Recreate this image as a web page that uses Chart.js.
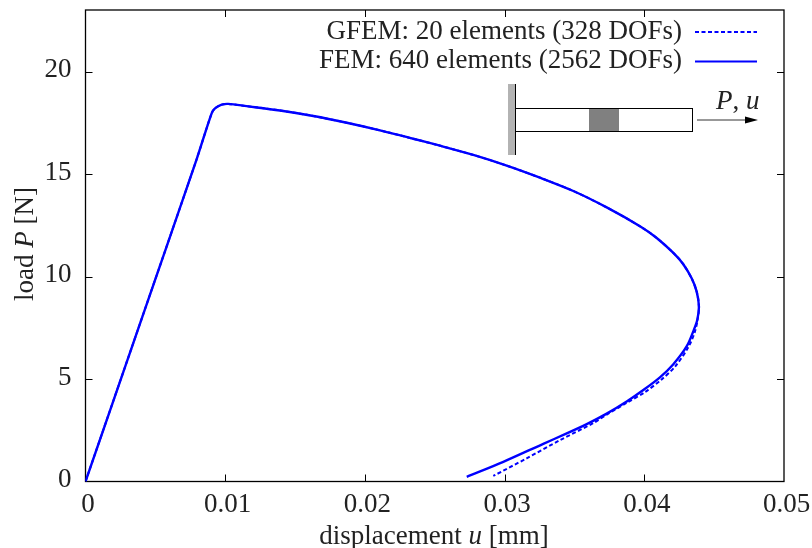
<!DOCTYPE html>
<html>
<head>
<meta charset="utf-8">
<style>
  html, body { margin: 0; padding: 0; background: #fff; }
  #wrap { position: relative; width: 812px; height: 548px; }
</style>
<script src="https://cdn.jsdelivr.net/npm/chart.js@4/dist/chart.umd.min.js"></script>
</head>
<body>
<div id="wrap"><canvas id="myChart" width="812" height="548"></canvas></div>
<script>
const xTicks = [0, 0.01, 0.02, 0.03, 0.04, 0.05];
const yTicks = [0, 5, 10, 15, 20];
const xTickLabels = ['0', '0.01', '0.02', '0.03', '0.04', '0.05'];

const femU = [0, 0.004, 0.00796, 0.00903, 0.00927, 0.00975, 0.01022, 0.01154, 0.01392, 0.01631, 0.0187, 0.02108, 0.02346, 0.02538, 0.02776, 0.03015, 0.03253, 0.03492, 0.03731, 0.03969, 0.04089, 0.04208, 0.04279, 0.04339, 0.04375, 0.04391, 0.04379, 0.04356, 0.04304, 0.04208, 0.04112, 0.03993, 0.03874, 0.03731, 0.03588, 0.03433, 0.03277, 0.02991, 0.02729];
const femP = [0, 7.9, 15.73, 17.96, 18.2, 18.38, 18.42, 18.31, 18.1, 17.83, 17.5, 17.13, 16.72, 16.38, 15.93, 15.41, 14.82, 14.17, 13.37, 12.45, 11.88, 11.15, 10.6, 9.91, 9.26, 8.53, 7.88, 7.42, 6.6, 5.72, 5.08, 4.46, 3.9, 3.31, 2.8, 2.31, 1.84, 0.96, 0.23];
const gfemU = [0, 0.004, 0.00796, 0.00903, 0.00927, 0.00975, 0.01022, 0.01154, 0.01392, 0.01631, 0.0187, 0.02108, 0.02346, 0.02538, 0.02776, 0.03015, 0.03253, 0.03492, 0.03731, 0.03969, 0.04089, 0.04208, 0.04279, 0.04339, 0.04375, 0.04391, 0.04381, 0.04362, 0.04315, 0.04222, 0.04124, 0.04005, 0.03874, 0.03731, 0.03635, 0.03397, 0.03158, 0.02919];
const gfemP = [0, 7.9, 15.73, 17.96, 18.2, 18.38, 18.42, 18.31, 18.1, 17.83, 17.5, 17.13, 16.72, 16.38, 15.93, 15.41, 14.82, 14.17, 13.37, 12.45, 11.88, 11.15, 10.6, 9.91, 9.26, 8.53, 7.88, 7.3, 6.55, 5.62, 4.98, 4.36, 3.84, 3.26, 2.85, 2.02, 1.13, 0.27];

const serif = '"Liberation Serif", "Times New Roman", serif';
const fontSize = 27;
const toPoints = (us, ps) => us.map((u, i) => ({ x: u, y: ps[i] }));

// draws mixed roman/italic runs one after the other
function drawRuns(c, runs, x, y, centered) {
    let start = x;
    if (centered) {
        let tw = 0;
        runs.forEach(r => { c.font = r[1] + fontSize + 'px ' + serif; tw += c.measureText(r[0]).width; });
        start = x - tw / 2;
    }
    runs.forEach(r => {
        c.font = r[1] + fontSize + 'px ' + serif;
        c.fillText(r[0], start, y);
        start += c.measureText(r[0]).width;
    });
}

const frame = {
    id: 'frame',
    beforeDatasetsDraw(chart) {
        const { left, top, width, height } = chart.chartArea;
        chart.ctx.save();
        chart.ctx.strokeStyle = '#000';
        chart.ctx.lineWidth = 1.3;
        chart.ctx.strokeRect(left, top, width, height);
        chart.ctx.restore();
    }
};

// inward ticks, legend, axis titles and the little bar sketch
const decorations = {
    id: 'decorations',
    afterDatasetsDraw(chart) {
        const c = chart.ctx;
        const { left, right, top, bottom } = chart.chartArea;
        const sx = chart.scales.x, sy = chart.scales.y;
        c.save();
        c.strokeStyle = '#000';
        c.lineWidth = 1;
        c.beginPath();
        xTicks.slice(1, -1).forEach(v => {
            const px = Math.round(sx.getPixelForValue(v)) + 0.5;
            c.moveTo(px, bottom); c.lineTo(px, bottom - 7);
            c.moveTo(px, top); c.lineTo(px, top + 7);
        });
        yTicks.slice(1).forEach(v => {
            const py = Math.round(sy.getPixelForValue(v)) + 0.5;
            c.moveTo(left, py); c.lineTo(left + 7, py);
            c.moveTo(right, py); c.lineTo(right - 7, py);
        });
        c.stroke();

        // legend
        c.font = fontSize + 'px ' + serif;
        c.fillStyle = '#222';
        c.textAlign = 'right';
        c.textBaseline = 'alphabetic';
        chart.data.datasets.forEach((ds, i) => {
            const y = 32 + i * 29.5;
            c.fillText(ds.label, 682, y + 6.5);
            c.strokeStyle = ds.borderColor;
            c.lineWidth = 2;
            c.setLineDash(ds.borderDash || []);
            c.beginPath(); c.moveTo(695, y); c.lineTo(757, y); c.stroke();
        });
        c.setLineDash([]);

        // sketch of the bar
        c.fillStyle = '#b3b3b3';
        c.fillRect(508, 84, 8, 71);
        c.fillStyle = '#808080';
        c.fillRect(589, 108, 30, 23);
        c.strokeStyle = '#000';
        c.lineWidth = 1;
        c.strokeRect(515.5, 108.5, 177, 23);
        c.beginPath(); c.moveTo(515.5, 84); c.lineTo(515.5, 155); c.stroke();
        c.strokeStyle = '#333';
        c.beginPath(); c.moveTo(697, 120); c.lineTo(748, 120); c.stroke();
        c.fillStyle = '#000';
        c.beginPath(); c.moveTo(758, 120); c.lineTo(745, 116.5); c.lineTo(745, 123.5); c.closePath(); c.fill();

        c.fillStyle = '#222';
        c.textAlign = 'left';
        drawRuns(c, [['P', 'italic '], [', ', ''], ['u', 'italic ']], 716, 108.5, false);

        // axis titles with the italic symbol
        drawRuns(c, [['displacement ', ''], ['u', 'italic '], [' [mm]', '']], 434, 544, true);
        c.translate(33, 244);
        c.rotate(-Math.PI / 2);
        drawRuns(c, [['load ', ''], ['P', 'italic '], [' [N]', '']], 0, 0, true);
        c.restore();
    }
};

const ctx = document.getElementById('myChart').getContext('2d');
const myChart = new Chart(ctx, {
    type: 'scatter',
    data: {
        datasets: [{
            label: 'GFEM: 20 elements (328 DOFs)',
            data: toPoints(gfemU, gfemP),
            showLine: true,
            borderColor: '#0000ff',
            borderWidth: 2,
            borderDash: [4, 2.5],
            pointRadius: 0,
            tension: 0.3
        }, {
            label: 'FEM: 640 elements (2562 DOFs)',
            data: toPoints(femU, femP),
            showLine: true,
            borderColor: '#0000ff',
            borderWidth: 2.4,
            pointRadius: 0,
            tension: 0.3
        }]
    },
    options: {
        responsive: false,
        animation: false,
        layout: { padding: { left: 0, right: 28, top: 10, bottom: 0 } },
        plugins: { legend: { display: false }, tooltip: { enabled: false } },
        scales: {
            x: {
                type: 'linear',
                min: 0,
                max: 0.05,
                afterBuildTicks: axis => { axis.ticks = xTicks.map(v => ({ value: v })); },
                afterFit: axis => { axis.height = 66.5; axis.paddingLeft = 0; axis.paddingRight = 0; },
                grid: { display: false },
                border: { display: false },
                ticks: {
                    color: '#222',
                    font: { family: serif, size: fontSize },
                    maxRotation: 0,
                    autoSkip: false,
                    padding: -1,
                    labelOffset: 2.5,
                    callback: (v, i) => xTickLabels[i]
                }
            },
            y: {
                type: 'linear',
                min: 0,
                max: 23,
                afterBuildTicks: axis => { axis.ticks = yTicks.map(v => ({ value: v })); },
                afterFit: axis => { axis.width = 85.5; axis.paddingTop = 0; axis.paddingBottom = 0; },
                grid: { display: false },
                border: { display: false },
                ticks: {
                    color: '#222',
                    font: { family: serif, size: fontSize },
                    autoSkip: false,
                    padding: 6,
                    labelOffset: -1.5
                }
            }
        }
    },
    plugins: [frame, decorations]
});
</script>
</body>
</html>
